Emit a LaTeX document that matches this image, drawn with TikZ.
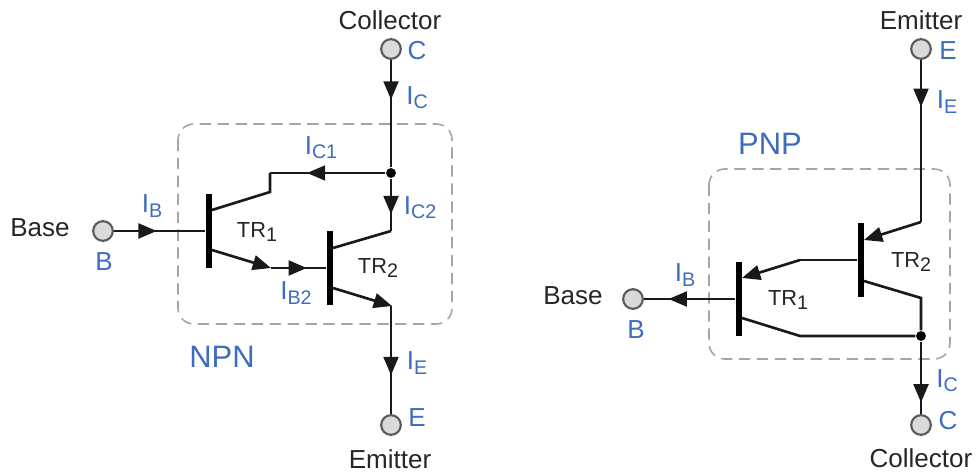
\documentclass[tikz,border=0pt]{standalone}
\usepackage{fontspec}
\setmainfont{Liberation Sans}
\usepackage{xcolor}
\usetikzlibrary{arrows.meta,decorations.markings}

\definecolor{labelblue}{RGB}{62,108,190}
\definecolor{boxgrey}{RGB}{165,165,165}
\newcommand{\lowidx}[1]{\raisebox{-0.3ex}{\fontsize{5.6}{6}\selectfont #1}}

\tikzset{
  wire/.style={line width=0.75pt,black!90},
  flowtip/.tip={Triangle[length=5.2pt,width=4.2pt]},
  flow/.style={decoration={markings,mark=at position #1 with {\arrow{flowtip}}},postaction={decorate}},
  terminal/.style={circle,draw=black!65,line width=0.6pt,fill=black!15,minimum size=5.6pt,inner sep=0pt},
  junction/.style={circle,fill=black,minimum size=2.8pt,inner sep=0pt},
  tbar/.style={rectangle,fill=black,minimum width=1.8pt,minimum height=21pt,inner sep=0pt},
  devicebox/.style={draw=boxgrey,line width=0.45pt,dash pattern=on 3.2pt off 1.9pt,rounded corners=4.5pt},
  pin name/.style={inner sep=0pt,text=black!85,font=\fontsize{7.4}{9}\selectfont},
  blue label/.style={inner sep=0pt,text=labelblue,font=\fontsize{7.4}{9}\selectfont},
  type label/.style={inner sep=0pt,text=labelblue,font=\fontsize{8.8}{10}\selectfont},
  stage/.style={inner sep=0pt,text=black!85,font=\fontsize{6.2}{8}\selectfont}
}

\begin{document}
\begin{tikzpicture}[x=0.01cm,y=-0.01cm]
  \useasboundingbox (0,0) rectangle (976,473);

  % NPN pair
  \draw [devicebox] (178,124) rectangle (452,324);
  \node [terminal] (cn) at (391,49) {};
  \node [terminal] (bn) at (103,231) {};
  \node [terminal] (en) at (391,425) {};
  \node [junction] (jn) at (391,173) {};
  \node [tbar] (bar1n) at (209,231) {};
  \node [tbar] (bar2n) at (330,268) {};
  \coordinate (c1n) at (212,210);
  \coordinate (c1na) at (270,192);
  \coordinate (c1nb) at (270,173);
  \coordinate (e1n) at (212,250);
  \coordinate (e1na) at (271,268);
  \coordinate (c2n) at (333,248);
  \coordinate (c2na) at (391,231);
  \coordinate (e2n) at (333,288);
  \coordinate (e2na) at (392,306);
  \coordinate (e2nb) at (391,306);

  \draw [wire,flow=0.37] (cn) -- (jn);
  \draw [wire,flow=0.68] (jn) -- (c1nb);
  \draw [wire] (c1nb) -- (c1na) -- (c1n);
  \draw [wire,flow=0.68] (jn) -- (c2na);
  \draw [wire] (c2na) -- (c2n);
  \draw [wire,flow=0.47] (bn) -- (bar1n);
  \draw [wire,-flowtip] (e1n) -- (e1na);
  \draw [wire,flow=0.65] (e1na) -- (bar2n);
  \draw [wire,-flowtip] (e2n) -- (e2na);
  \draw [wire,flow=0.64] (e2nb) -- (en);

  \node [pin name] (collectorn) at (390,20) {Collector};
  \node [blue label] (cnl) at (417,51) {C};
  \node [blue label] (icn) at (417,98) {I\lowidx{C}};
  \node [blue label] (ic1n) at (321,148) {I\lowidx{C1}};
  \node [blue label] (ic2n) at (420,208) {I\lowidx{C2}};
  \node [blue label] (ibn) at (152,206) {I\lowidx{B}};
  \node [blue label] (ib2n) at (296,293) {I\lowidx{B2}};
  \node [blue label] (ien) at (417,363) {I\lowidx{E}};
  \node [pin name] (basen) at (40,228) {Base};
  \node [blue label] (bnl) at (104,262) {B};
  \node [stage] (tr1n) at (257,232) {TR\lowidx{1}};
  \node [stage] (tr2n) at (378,268) {TR\lowidx{2}};
  \node [type label] (npn) at (222,357) {NPN};
  \node [blue label] (enl) at (417,418) {E};
  \node [pin name] (emittern) at (390,459) {Emitter};

  % PNP pair
  \draw [devicebox] (709,169) rectangle (950,359);
  \node [terminal] (ep) at (921,49) {};
  \node [terminal] (bp) at (633,299) {};
  \node [terminal] (cp) at (921,425) {};
  \node [junction] (jp) at (921,336) {};
  \node [tbar] (bar1p) at (739,299) {};
  \node [tbar] (bar2p) at (861,260) {};
  \coordinate (e2p) at (864,240);
  \coordinate (e2pa) at (921,222);
  \coordinate (c2p) at (864,281);
  \coordinate (c2pa) at (921,298);
  \coordinate (e1p) at (742,278);
  \coordinate (e1pa) at (800,260);
  \coordinate (c1p) at (742,318);
  \coordinate (c1pa) at (800,336);

  \draw [wire,flow=0.29] (ep) -- (e2pa);
  \draw [wire,-flowtip] (e2pa) -- (e2p);
  \draw [wire] (c2p) -- (c2pa) -- (jp);
  \draw [wire,-flowtip] (e1pa) -- (e1p);
  \draw [wire] (bar2p) -- (e1pa);
  \draw [wire,flow=0.73] (bar1p) -- (bp);
  \draw [wire] (c1p) -- (c1pa) -- (jp);
  \draw [wire,flow=0.84] (jp) -- (cp);

  \node [pin name] (emitterp) at (921,20) {Emitter};
  \node [blue label] (epl) at (948,51) {E};
  \node [blue label] (iep) at (947,102) {I\lowidx{E}};
  \node [type label] (pnp) at (770,144) {PNP};
  \node [blue label] (ibp) at (685,275) {I\lowidx{B}};
  \node [pin name] (basep) at (573,296) {Base};
  \node [blue label] (bpl) at (636,330) {B};
  \node [stage] (tr1p) at (788,300) {TR\lowidx{1}};
  \node [stage] (tr2p) at (911,262) {TR\lowidx{2}};
  \node [blue label] (icp) at (947,381) {I\lowidx{C}};
  \node [blue label] (cpl) at (948,421) {C};
  \node [pin name] (collectorp) at (921,458) {Collector};
\end{tikzpicture}
\end{document}
